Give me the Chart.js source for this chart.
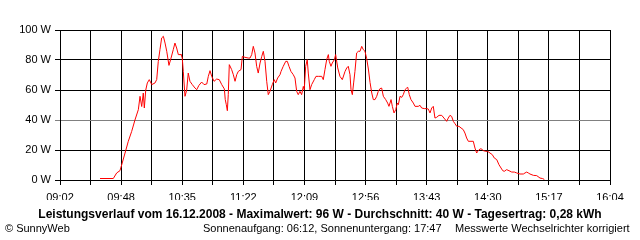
<!DOCTYPE html>
<html>
<head>
<meta charset="utf-8">
<script src="https://cdn.jsdelivr.net/npm/chart.js@4.4.0/dist/chart.umd.min.js"></script>
<style>
  body { margin: 0; background: #fff; }
  #wrap { position: relative; width: 640px; height: 240px; overflow: hidden; font-family: "Liberation Sans", Arial, sans-serif; }
  #wrap canvas { position: absolute; left: 0; top: 0; }
  .txt { position: absolute; white-space: nowrap; color: #000; font-size: 11px; line-height: 13px; }
  #title { left: 0; width: 640px; top: 208px; text-align: center; font-weight: bold; font-size: 12px; }
  #copy { left: 5px; top: 222px; }
  #sun { left: 203px; top: 222px; }
  #note { left: 455px; top: 222px; }
</style>
</head>
<body>
<div id="wrap">
  <canvas id="power" width="640" height="240"></canvas>
  <div class="txt" id="title">Leistungsverlauf vom 16.12.2008 - Maximalwert: 96 W - Durchschnitt: 40 W - Tagesertrag: 0,28 kWh</div>
  <div class="txt" id="copy">© SunnyWeb</div>
  <div class="txt" id="sun">Sonnenaufgang: 06:12, Sonnenuntergang: 17:47</div>
  <div class="txt" id="note">Messwerte Wechselrichter korrigiert</div>
</div>
<script>
// time axis labels (every 47 min), grid runs at half that step
const timeLabels = ['09:02', '09:48', '10:35', '11:22', '12:09', '12:56', '13:43', '14:30', '15:17', '16:04'];
const axisSpan = 422; // minutes from 09:02 to 16:04

// minutes after 09:02
const minutesAfterStart = [
  30.7, 40.9, 43.5, 46.0, 47.3, 49.9, 52.4, 55.0, 57.5, 60.1,
  61.4, 62.7, 63.9, 64.7, 65.8, 67.0, 68.5, 70.4, 72.9, 74.2,
  75.4, 76.7, 78.0, 79.3, 80.6, 81.9, 83.6, 85.2, 86.9, 88.2,
  89.5, 90.8, 92.1, 92.8, 93.8, 94.6, 95.9, 97.2, 98.4, 99.7,
  101.5, 103.6, 104.9, 106.6, 108.7, 110.5, 112.6, 113.8, 115.1, 116.4,
  118.2, 120.2, 122.2, 124.1, 126.1, 126.8, 127.6, 128.4, 129.1, 129.9,
  131.7, 133.0, 134.3, 135.6, 136.8, 138.9, 139.9, 141.9, 144.5, 145.8,
  147.1, 148.3, 149.6, 150.9, 152.1, 153.5, 154.8, 156.0, 157.3, 158.6,
  159.8, 161.1, 162.9, 164.4, 165.5, 167.0, 168.8, 169.6, 171.3, 173.2,
  174.4, 175.7, 177.2, 179.0, 180.3, 181.6, 182.8, 184.1, 185.4, 186.7,
  187.4, 188.5, 189.7, 190.5, 191.8, 193.1, 195.1, 196.4, 198.2, 200.8,
  202.0, 203.3, 204.6, 205.9, 206.6, 207.9, 208.9, 210.5, 211.5, 213.1,
  214.8, 216.6, 218.7, 220.0, 221.2, 222.5, 223.3, 224.3, 225.3, 226.3,
  227.6, 228.9, 230.2, 231.5, 232.7, 234.0, 235.3, 236.6, 237.9, 239.2,
  240.4, 241.7, 243.0, 244.2, 245.5, 246.8, 248.1, 249.9, 251.4, 252.4,
  254.0, 255.0, 256.3, 257.6, 258.8, 259.6, 260.9, 262.2, 263.4, 264.7,
  266.0, 266.8, 268.0, 269.3, 271.1, 272.4, 274.9, 276.2, 277.5, 279.5,
  281.4, 282.6, 283.9, 285.2, 286.4, 287.7, 289.0, 290.8, 292.9, 294.6,
  296.7, 297.9, 299.2, 300.5, 301.8, 303.1, 304.4, 306.1, 307.7, 309.4,
  310.7, 312.0, 313.3, 314.6, 317.1, 318.4, 319.7, 320.5, 321.5, 323.0,
  324.8, 326.6, 328.2, 329.9, 331.7, 333.2, 335.1, 336.8, 338.4, 339.7,
  340.9, 342.7, 344.5, 346.6, 348.6, 350.4, 352.9, 355.5, 356.8, 358.1,
  359.3, 360.6, 363.2, 365.8, 368.3, 370.1, 371.6
];

// AC power in W
const powerW = [
  1, 1, 4.7, 6.2, 10, 18, 25.8, 32.4, 40, 46.9,
  55.8, 49, 58, 48, 60, 64.7, 66.9, 63.6, 64.7, 67,
  79, 86.9, 94.7, 95.8, 91.3, 85.8, 76.4, 81.3, 86.9, 91.3,
  88, 83.6, 83.6, 84, 81.3, 72.4, 55.8, 60, 71.3, 65.8,
  63.6, 61.3, 60.2, 63.1, 65.3, 63.6, 64, 69.1, 72.9, 69.1,
  65.8, 67.3, 66.9, 63.6, 60.7, 53.6, 50.2, 46.2, 56.9, 76.9,
  73.6, 70.2, 65.8, 70.2, 72.4, 73.6, 82.4, 81.8, 81.3, 81.3,
  83.6, 89.1, 84.7, 75.8, 71.3, 78, 82.4, 85.8, 79.1, 65.8,
  56.9, 59.1, 63.6, 66.9, 64.7, 68, 70.2, 72.4, 75.8, 79.1,
  79.1, 75.8, 72.4, 70.2, 68, 59.1, 56.9, 59.1, 56.9, 62.4,
  60.2, 75.8, 80.2, 71.3, 60.2, 63.6, 66.9, 69.1, 69.1, 69.1,
  66.9, 73.6, 80.2, 83.6, 79.1, 75.8, 78, 80.2, 83.6, 74.7,
  69.1, 66.9, 72.4, 74.7, 75.8, 70.2, 60.2, 56.9, 64.7, 72.4,
  84.7, 85.8, 85.8, 89.1, 86.9, 85.8, 81, 74, 65, 58,
  53.6, 53.6, 55.8, 59.1, 60.9, 61.3, 55.8, 53.6, 51.3, 49.1,
  53.6, 49.1, 44.7, 46.9, 51.3, 50.2, 55.8, 55.1, 56.9, 60.2,
  61.3, 61.8, 56.9, 53.6, 51.3, 49.1, 49.1, 49.8, 48, 47.6,
  47.6, 47.3, 44.7, 48, 49.1, 41.3, 41.8, 43.1, 43.1, 41.3,
  39.1, 41.3, 43.1, 42.4, 39.1, 37.5, 35.8, 35.8, 34.7, 33.6,
  31.3, 28, 25.8, 25.8, 25.8, 21.3, 18, 19.1, 20.2, 20.9,
  19.6, 19.1, 19.1, 18, 16.9, 14.7, 13.6, 10.2, 8, 6.2,
  5.8, 6.9, 6.2, 5.3, 5.3, 4.7, 4, 4, 4.7, 5.3,
  4.7, 4, 3.1, 2.9, 1.3, 1, 0.4
];

const ctx = document.getElementById('power').getContext('2d');
const tickFont = { family: '"Liberation Sans", Arial, sans-serif', size: 11 };

new Chart(ctx, {
  type: 'line',
  data: {
    datasets: [{
      data: minutesAfterStart.map((m, i) => ({ x: m, y: powerW[i] })),
      borderColor: '#ff0000',
      borderWidth: 1,
      pointRadius: 0,
      tension: 0,
      fill: false
    }]
  },
  options: {
    responsive: false,
    animation: false,
    layout: { padding: { top: 30, right: 30, bottom: 40, left: 0 } },
    plugins: { legend: { display: false }, tooltip: { enabled: false } },
    scales: {
      x: {
        type: 'linear',
        min: 0,
        max: axisSpan,
        afterBuildTicks: axis => {
          const n = (timeLabels.length - 1) * 2;
          axis.ticks = Array.from({ length: n + 1 }, (_, k) => ({ value: k * axisSpan / n }));
        },
        afterFit: axis => { axis.height = 20; },
        grid: { color: '#000', lineWidth: 1, tickLength: 5, drawOnChartArea: true },
        border: { color: '#000', width: 1 },
        ticks: {
          autoSkip: false,
          maxRotation: 0,
          padding: 6,
          color: '#000',
          font: tickFont,
          callback: (v, i) => (i % 2 === 0 ? timeLabels[i / 2] : '')
        }
      },
      y: {
        min: 0,
        max: 100,
        afterFit: axis => { axis.width = 60; },
        grid: {
          color: c => (c.tick && c.tick.value === 40 ? '#808080' : '#000'),
          lineWidth: 1,
          tickLength: 5
        },
        border: { color: '#000', width: 1 },
        ticks: {
          stepSize: 20,
          padding: 4,
          color: '#000',
          font: tickFont,
          callback: v => v + ' W'
        }
      }
    }
  },
  plugins: [{
    id: 'rightEdge',
    afterDraw(chart) {
      const a = chart.chartArea, c = chart.ctx;
      c.save();
      c.strokeStyle = '#000';
      c.lineWidth = 1;
      c.beginPath();
      c.moveTo(Math.round(a.right) + 0.5, a.top);
      c.lineTo(Math.round(a.right) + 0.5, a.bottom + 5);
      c.stroke();
      c.restore();
    }
  }]
});
</script>
</body>
</html>
